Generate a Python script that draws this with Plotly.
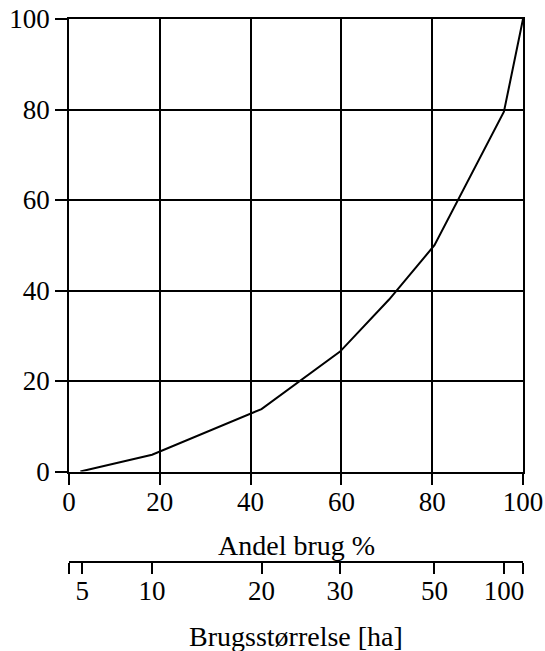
import plotly.graph_objects as go

# Lorenz curve data (cumulative % of farms vs cumulative % of area)
andel_brug = [2.5, 18.3, 42.4, 59.7, 70.5, 80.5, 95.8, 100]
andel_areal = [0, 3.7, 13.8, 26.5, 38.0, 50.0, 79.5, 100]

# secondary axis: farm size classes and their position on the % axis
size_labels = ["", "5", "10", "20", "30", "50", "100", ""]
size_pos = [0, 2.9, 18.3, 42.4, 59.7, 80.5, 95.8, 100]

main_ticks = [0, 20, 40, 60, 80, 100]

W, H = 545, 651
T = 19
L = 69
R = W - 523
B = 60
paper_bottom = H - B
paper_h = H - T - B

def py(screen_pix):
    return (paper_bottom - screen_pix) / paper_h

FONT = "Liberation Serif"

fig = go.Figure()
fig.add_trace(go.Scatter(x=andel_brug, y=andel_areal, mode="lines",
                         line=dict(color="black", width=2),
                         showlegend=False, hoverinfo="skip"))
fig.add_trace(go.Scatter(x=[0, 100], y=[None, None], xaxis="x2", yaxis="y",
                         mode="lines", showlegend=False, hoverinfo="skip"))

axis_common = dict(showline=True, linecolor="black", linewidth=1.8, mirror=True,
                   showgrid=True, gridcolor="black", gridwidth=1.8,
                   ticks="outside", ticklen=12, tickwidth=1.8, tickcolor="black",
                   zeroline=False, automargin=False, ticklabeloverflow="allow",
                   tickfont=dict(family=FONT, size=27, color="black"))

fig.update_layout(
    width=W, height=H,
    margin=dict(t=T, b=B, l=L, r=R, pad=0),
    paper_bgcolor="white", plot_bgcolor="white",
    xaxis=dict(range=[0, 100], tickvals=main_ticks, domain=[0, 1],
               anchor="y", ticklabelstandoff=-7, **axis_common),
    yaxis=dict(range=[0, 100], tickvals=main_ticks, domain=[py(471.5), 1],
               anchor="x", ticklabelstandoff=0, **axis_common),
    xaxis2=dict(range=[0, 100], overlaying="x", anchor="free", position=py(562),
                side="bottom", showline=True, linecolor="black", linewidth=1.5,
                showgrid=False, zeroline=False, automargin=False,
                ticklabeloverflow="allow",
                tickvals=size_pos, ticktext=size_labels, ticklabelstandoff=-6,
                ticks="outside", ticklen=11, tickwidth=1.5, tickcolor="black",
                tickfont=dict(family=FONT, size=27, color="black")),
    annotations=[
        dict(text="Andel brug %", x=0.5, y=py(545), xref="paper", yref="paper",
             showarrow=False, xanchor="center", yanchor="middle",
             font=dict(family=FONT, size=28, color="black")),
        dict(text="Brugsstørrelse [ha]", x=0.5, y=py(636), xref="paper", yref="paper",
             showarrow=False, xanchor="center", yanchor="middle",
             font=dict(family=FONT, size=28, color="black")),
    ],
)

fig.write_html("out.html", config={"displayModeBar": False},
               post_script="document.body.style.margin='0';document.body.style.overflow='hidden';")
